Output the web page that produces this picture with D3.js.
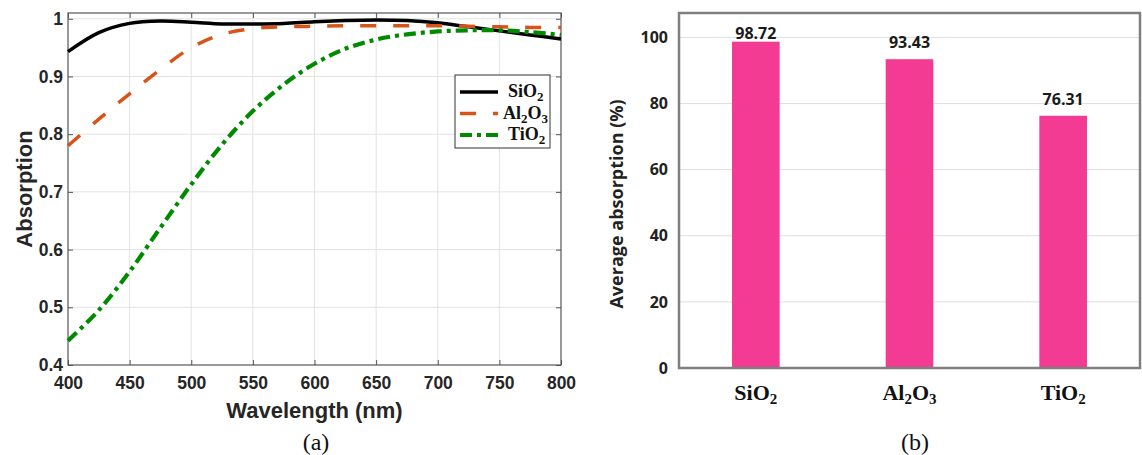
<!DOCTYPE html>
<html>
<head>
<meta charset="utf-8">
<script src="https://cdn.jsdelivr.net/npm/d3@7"></script>
<style>
  body { margin: 0; background: #fff; }
  svg { display: block; }
</style>
</head>
<body>
<svg id="chart" width="1142" height="455"></svg>
<script>
// 波長（nm）
const wavelengths = [400, 425, 450, 475, 500, 525, 550, 575, 600, 625, 650, 675, 700, 725, 750, 775, 800];

// 各材料の吸収スペクトル
const sio2Abs  = [0.943, 0.976, 0.992, 0.996, 0.994, 0.991, 0.991, 0.992, 0.995, 0.997, 0.998, 0.997, 0.993, 0.986, 0.979, 0.972, 0.965];
const al2o3Abs = [0.780, 0.826, 0.870, 0.912, 0.950, 0.973, 0.983, 0.986, 0.987, 0.988, 0.988, 0.988, 0.988, 0.987, 0.986, 0.985, 0.985];
const tio2Abs  = [0.442, 0.495, 0.562, 0.638, 0.713, 0.782, 0.840, 0.886, 0.922, 0.948, 0.964, 0.973, 0.978, 0.980, 0.980, 0.977, 0.972];

// 平均吸収率（%）
const materials = ["SiO2", "Al2O3", "TiO2"];
const avgAbs = [98.72, 93.43, 76.31];

const xTicksA = [400, 450, 500, 550, 600, 650, 700, 750, 800];
const yTicksA = [0.4, 0.5, 0.6, 0.7, 0.8, 0.9, 1];
const yTicksB = [0, 20, 40, 60, 80, 100];

// 化学式の下付き文字
const formulaParts = {
    SiO2: [["SiO", false], ["2", true]],
    Al2O3: [["Al", false], ["2", true], ["O", false], ["3", true]],
    TiO2: [["TiO", false], ["2", true]]
};

function writeFormula(textSel, name, subSize, shift) {
    formulaParts[name].forEach(([t, sub], i) => {
        const prevSub = i > 0 && formulaParts[name][i - 1][1];
        const ts = textSel.append("tspan").text(t);
        if (sub) ts.attr("dy", shift).attr("font-size", subSize);
        else if (prevSub) ts.attr("dy", -shift);
    });
}

const svg = d3.select("#chart");
const serifFont = "'Liberation Serif', 'Times New Roman', serif";

// ---------- (a) 吸収スペクトル ----------
const A = { left: 68, right: 561, top: 13, bottom: 365 };
const xA = d3.scaleLinear().domain([400, 800]).range([A.left, A.right]);
const yA = d3.scaleLinear().domain([0.4, 1.01]).range([A.bottom, A.top]);

const gA = svg.append("g");

// グリッド
gA.append("g").selectAll("line").data(xTicksA.slice(1, -1)).join("line")
    .attr("x1", d => xA(d)).attr("x2", d => xA(d))
    .attr("y1", A.top).attr("y2", A.bottom)
    .attr("stroke", "#e3e3e3").attr("stroke-width", 1);
gA.append("g").selectAll("line").data(yTicksA.slice(1)).join("line")
    .attr("x1", A.left).attr("x2", A.right)
    .attr("y1", d => yA(d)).attr("y2", d => yA(d))
    .attr("stroke", "#e3e3e3").attr("stroke-width", 1);

// 軸
const axisFont = "'Liberation Sans', Arial, sans-serif";
const axB = gA.append("g").attr("transform", `translate(0,${A.bottom})`)
    .call(d3.axisBottom(xA).tickValues(xTicksA).tickSize(-5).tickPadding(12));
const axL = gA.append("g").attr("transform", `translate(${A.left},0)`)
    .call(d3.axisLeft(yA).tickValues(yTicksA).tickSize(-5).tickPadding(5)
        .tickFormat(d => d === 1 ? "1" : d3.format(".1f")(d)));
const axT = gA.append("g").attr("transform", `translate(0,${A.top})`)
    .call(d3.axisTop(xA).tickValues(xTicksA).tickSize(-5).tickFormat(""));
const axR = gA.append("g").attr("transform", `translate(${A.right},0)`)
    .call(d3.axisRight(yA).tickValues(yTicksA).tickSize(-5).tickFormat(""));
[axB, axL, axT, axR].forEach(ax => {
    ax.select(".domain").remove();
    ax.selectAll("line").attr("stroke", "#555");
    ax.selectAll("text").attr("font-family", axisFont).attr("font-weight", "bold")
        .attr("font-size", 17.5).attr("fill", "#262626");
});
gA.append("rect")
    .attr("x", A.left).attr("y", A.top)
    .attr("width", A.right - A.left).attr("height", A.bottom - A.top)
    .attr("fill", "none").attr("stroke", "#555").attr("stroke-width", 1.2);

// 曲線
const seriesA = [
    { name: "SiO2", values: sio2Abs, color: "#000000", width: 3.5, dash: null },
    { name: "Al2O3", values: al2o3Abs, color: "#d95319", width: 3.5, dash: "16,17" },
    { name: "TiO2", values: tio2Abs, color: "#008a00", width: 4.2, dash: "12,5,4,5" }
];
const line = d3.line()
    .x((d, i) => xA(wavelengths[i]))
    .y(d => yA(d))
    .curve(d3.curveCatmullRom);

gA.append("g").selectAll("path").data(seriesA).join("path")
    .attr("d", d => line(d.values))
    .attr("fill", "none")
    .attr("stroke", d => d.color)
    .attr("stroke-width", d => d.width)
    .attr("stroke-dasharray", d => d.dash);

// 凡例
const leg = gA.append("g").attr("transform", "translate(455,75)");
leg.append("rect").attr("width", 95).attr("height", 73)
    .attr("fill", "#fff").attr("stroke", "#333").attr("stroke-width", 1);
seriesA.forEach((s, i) => {
    const cy = 17 + i * 21.5;
    leg.append("line")
        .attr("x1", 5).attr("x2", 43).attr("y1", cy).attr("y2", cy)
        .attr("stroke", s.color).attr("stroke-width", s.width)
        .attr("stroke-dasharray", s.dash);
    const t = leg.append("text")
        .attr("x", i === 1 ? 48 : 53).attr("y", cy + 5)
        .attr("font-family", serifFont)
        .attr("font-weight", "bold").attr("font-size", 18).attr("fill", "#111");
    writeFormula(t, s.name, 13, 4);
});

// 軸ラベル
gA.append("text")
    .attr("x", (A.left + A.right) / 2).attr("y", 418)
    .attr("text-anchor", "middle")
    .attr("font-family", axisFont).attr("font-weight", "bold").attr("font-size", 22)
    .attr("fill", "#262626").text("Wavelength (nm)");
gA.append("text")
    .attr("transform", `translate(32,${(A.top + A.bottom) / 2}) rotate(-90)`)
    .attr("text-anchor", "middle")
    .attr("font-family", axisFont).attr("font-weight", "bold").attr("font-size", 22)
    .attr("fill", "#262626").text("Absorption");
gA.append("text")
    .attr("x", 316).attr("y", 450).attr("text-anchor", "middle")
    .attr("font-family", serifFont)
    .attr("font-size", 24).attr("fill", "#111").text("(a)");

// ---------- (b) 平均吸収率 ----------
const B = { left: 679, right: 1140, top: 13, bottom: 368 };
const xB = d3.scaleBand().domain(materials).range([B.left, B.right]);
const yB = d3.scaleLinear().domain([0, 107.4]).range([B.bottom, B.top]);
const barW = xB.bandwidth() * 0.31;
const gB = svg.append("g");
const barFont = "'Open Sans', 'Noto Sans', sans-serif";

gB.append("g").selectAll("line").data(yTicksB.slice(1)).join("line")
    .attr("x1", B.left).attr("x2", B.right)
    .attr("y1", d => yB(d)).attr("y2", d => yB(d))
    .attr("stroke", "#dedede").attr("stroke-width", 1);

const axLB = gB.append("g").attr("transform", `translate(${B.left},0)`)
    .call(d3.axisLeft(yB).tickValues(yTicksB).tickSize(0).tickPadding(11));
axLB.select(".domain").remove();
axLB.selectAll("text").attr("font-family", barFont).attr("font-weight", "bold")
    .attr("font-size", 16).attr("fill", "#222");

gB.append("g").selectAll("rect").data(avgAbs).join("rect")
    .attr("x", (d, i) => xB(materials[i]) + (xB.bandwidth() - barW) / 2)
    .attr("y", d => yB(d))
    .attr("width", barW)
    .attr("height", d => B.bottom - yB(d))
    .attr("fill", "#f43b93");

gB.append("g").selectAll("text").data(avgAbs).join("text")
    .attr("x", (d, i) => xB(materials[i]) + xB.bandwidth() / 2)
    .attr("y", d => Math.max(yB(d) - 11, B.top + 26))
    .attr("text-anchor", "middle")
    .attr("font-family", barFont).attr("font-weight", "bold").attr("font-size", 16)
    .attr("fill", "#1a1a1a")
    .text(d => d3.format(".2f")(d));

gB.append("rect")
    .attr("x", B.left).attr("y", B.top)
    .attr("width", B.right - B.left).attr("height", B.bottom - B.top)
    .attr("fill", "none").attr("stroke", "#7f7f7f").attr("stroke-width", 2.5);

materials.forEach(m => {
    const t = gB.append("text")
        .attr("x", xB(m) + xB.bandwidth() / 2).attr("y", 400)
        .attr("text-anchor", "middle")
        .attr("font-family", serifFont)
        .attr("font-weight", "bold").attr("font-size", 22).attr("fill", "#111");
    writeFormula(t, m, 15, 4);
});

gB.append("text")
    .attr("transform", `translate(623,204) rotate(-90)`)
    .attr("text-anchor", "middle")
    .attr("font-family", barFont).attr("font-weight", "bold").attr("font-size", 18)
    .attr("fill", "#222").text("Average absorption (%)");
gB.append("text")
    .attr("x", 915).attr("y", 450).attr("text-anchor", "middle")
    .attr("font-family", serifFont)
    .attr("font-size", 24).attr("fill", "#111").text("(b)");
</script>
</body>
</html>
